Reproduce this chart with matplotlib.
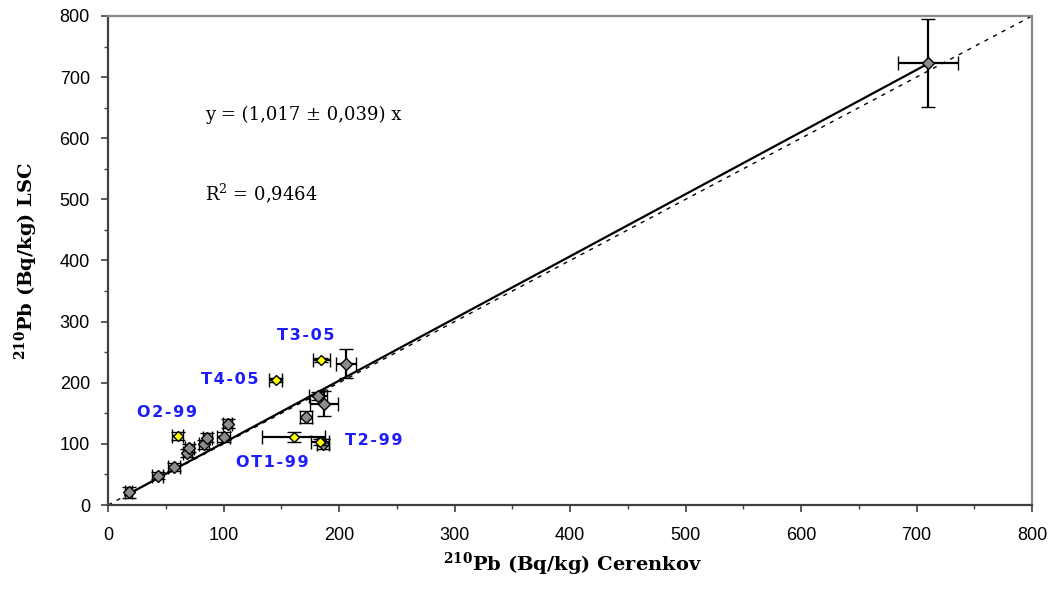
import matplotlib
matplotlib.use("Agg")
import matplotlib.pyplot as plt
from matplotlib.ticker import MultipleLocator

# gray reference points (Cerenkov vs LSC)
gx = [18, 43, 57, 68.7, 70.5, 83, 86, 100, 103.7, 171.3, 181.7, 187, 186, 206, 710]
gy = [21, 48, 62, 85, 93, 99, 110, 111, 133, 144, 178, 166, 100, 231, 723]
gxerr = [3, 5, 5, 4, 4, 4, 4, 6, 4, 5, 8, 12, 5, 9, 26]
gyerr = [9, 6, 6, 6, 6, 7, 7, 8, 7, 10, 7, 20, 8, 24, 72]

# highlighted (yellow) samples
names = ["O2-99", "T4-05", "T3-05", "OT1-99", "T2-99"]
yxv = [60.4, 145, 184.6, 160.6, 183.4]
yyv = [113, 205, 237, 111, 103]
yxerr = [4.6, 6, 7.5, 27, 8]
yyerr = [7, 3, 3, 8, 5]
label_pos = [(51, 152), (105, 206), (171, 278), (142, 70), (230, 105)]

slope = 1.017
fit_range = [15, 710]
ident_range = [0, 800]

fig = plt.figure(figsize=(10.51, 5.91), dpi=100)
ax = fig.add_axes([0.1028, 0.1455, 0.8792, 0.8275])

ax.plot(ident_range, ident_range, color="black", lw=1.0, ls=(0, (3, 4)), zorder=1)
ax.plot(fit_range, [slope * v for v in fit_range], color="black", lw=1.6, zorder=2)

ax.errorbar(gx, gy, xerr=gxerr, yerr=gyerr, fmt="D", ms=6, mfc="#8c8c8c",
            mec="black", mew=1.0, ecolor="black", elinewidth=1.6, capsize=5,
            capthick=1.6, zorder=3)
ax.errorbar(yxv, yyv, xerr=yxerr, yerr=yyerr, fmt="D", ms=5.5, mfc="#ffff00",
            mec="black", mew=1.0, ecolor="black", elinewidth=1.6, capsize=5,
            capthick=1.6, zorder=4)

for n, (lx, ly) in zip(names, label_pos):
    ax.text(lx, ly, "\u200a".join(n), color="#1c1cff", fontsize=11.5,
            fontweight="bold", family=["DejaVu Sans"], ha="center", va="center")

ax.text(84, 638, "y = (1,017 \u00b1 0,039) x", family="DejaVu Serif",
        fontsize=13, ha="left", va="center")
ax.text(84, 510, r"R$\mathregular{^2}$ = 0,9464", family="DejaVu Serif",
        fontsize=13, ha="left", va="center")

ax.set_xlim(0, 800)
ax.set_ylim(0, 800)
ax.xaxis.set_major_locator(MultipleLocator(100))
ax.xaxis.set_minor_locator(MultipleLocator(50))
ax.yaxis.set_major_locator(MultipleLocator(100))
ax.yaxis.set_minor_locator(MultipleLocator(50))
ax.tick_params(which="major", direction="out", length=5, width=1.2, color="#404040")
ax.tick_params(which="minor", direction="out", length=3, width=1.0, color="#404040")
ax.tick_params(axis="x", pad=11)
ax.tick_params(axis="y", pad=8)
for lab in ax.get_xticklabels() + ax.get_yticklabels():
    lab.set_family("Liberation Sans")
    lab.set_fontsize(13)

for s in ["left", "bottom"]:
    ax.spines[s].set_color("#404040")
    ax.spines[s].set_linewidth(1.6)
for s in ["top", "right"]:
    ax.spines[s].set_color("#8a8a8a")
    ax.spines[s].set_linewidth(1.6)

ax.set_xlabel(r"$\mathregular{^{210}}$Pb (Bq/kg) Cerenkov", family="DejaVu Serif",
              fontweight="bold", fontsize=14)
ax.set_ylabel(r"$\mathregular{^{210}}$Pb (Bq/kg) LSC", family="DejaVu Serif",
              fontweight="bold", fontsize=14)
ax.xaxis.set_label_coords(0.503, -0.094)
ax.yaxis.set_label_coords(-0.074, 0.5)

fig.savefig("out.png", dpi=100)
